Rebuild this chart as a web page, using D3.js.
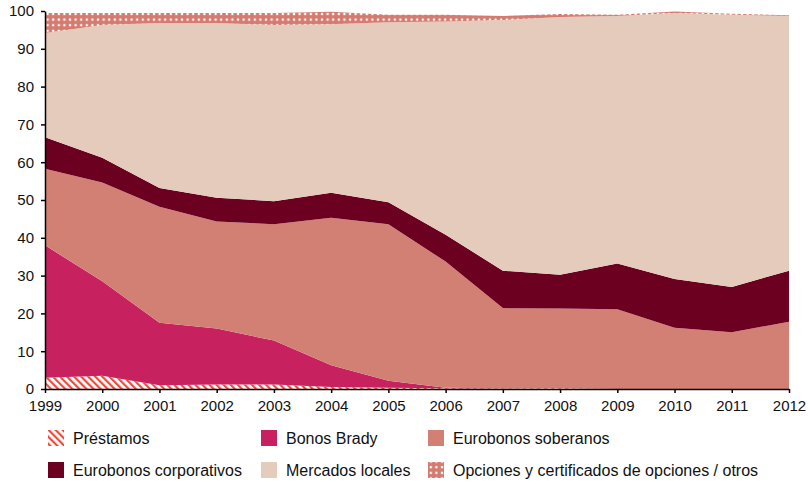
<!DOCTYPE html>
<meta charset="utf-8">
<title>Composición de la deuda</title>
<style>
body {
  margin: 0;
  font-family: "Liberation Sans", Arial, sans-serif;
  background: #fff;
}
.axis text {
  font-size: 15px;
  fill: #111;
}
.legend text {
  font-size: 16px;
  fill: #111;
}
</style>
<body>
<div id="vis"></div>
<script src="https://cdn.jsdelivr.net/npm/d3@7"></script>
<script>

// años
var years = [1999, 2000, 2001, 2002, 2003, 2004, 2005, 2006, 2007, 2008, 2009, 2010, 2011, 2012];

// participaciones (%) de cada instrumento
var prestamos    = [3.0, 3.5, 1.0, 1.2, 1.2, 0.5, 0.3, 0.2, 0.1, 0.2, 0.0, 0.0, 0.0, 0.0];
var brady        = [35.0, 25.0, 16.5, 14.8, 11.6, 5.8, 1.9, 0.1, 0.0, 0.0, 0.0, 0.0, 0.0, 0.0];
var soberanos    = [20.3, 26.1, 30.7, 28.3, 30.8, 39.0, 41.4, 33.4, 21.3, 21.1, 21.1, 16.2, 15.0, 17.8];
var corporativos = [8.3, 6.6, 5.0, 6.3, 6.1, 6.6, 5.8, 7.1, 9.9, 8.9, 12.1, 12.9, 12.0, 13.5];
var locales      = [27.6, 35.1, 43.6, 46.2, 46.6, 44.6, 47.6, 56.4, 66.3, 68.2, 65.5, 70.4, 72.0, 67.4];
var otros        = [5.3, 3.2, 2.7, 2.7, 3.2, 3.3, 2.0, 1.8, 1.1, 0.8, 0.3, 0.4, 0.3, 0.2];

var yTicks = [0, 10, 20, 30, 40, 50, 60, 70, 80, 90, 100];

var seriesNames = ["Préstamos", "Bonos Brady", "Eurobonos soberanos",
                   "Eurobonos corporativos", "Mercados locales",
                   "Opciones y certificados de opciones / otros"];
var seriesValues = [prestamos, brady, soberanos, corporativos, locales, otros];
var fills = ["url(#stripes)", "#c8215f", "#d18073", "#6b0020", "#e5cbbb", "url(#dots)"];

var width = 808, height = 484;
var margin = {top: 11, right: 19, bottom: 95, left: 45};

var svg = d3.select("#vis").append("svg")
    .attr("width", width)
    .attr("height", height);

// patrones
var defs = svg.append("defs");

var stripes = defs.append("pattern")
    .attr("id", "stripes")
    .attr("patternUnits", "userSpaceOnUse")
    .attr("width", 5)
    .attr("height", 5)
    .attr("patternTransform", "rotate(-45)");
stripes.append("rect").attr("width", 5).attr("height", 5).attr("fill", "#fff");
stripes.append("rect").attr("x", 0).attr("width", 2.2).attr("height", 5).attr("fill", "#ef4a3c");

var dots = defs.append("pattern")
    .attr("id", "dots")
    .attr("patternUnits", "userSpaceOnUse")
    .attr("width", 5.6)
    .attr("height", 5.6);
dots.append("rect").attr("width", 5.6).attr("height", 5.6).attr("fill", "#d47b70");
dots.append("rect").attr("x", 1.7).attr("y", 1.7).attr("width", 2.2).attr("height", 2.2).attr("fill", "#fff");

var x = d3.scaleLinear()
    .domain([1999, 2012])
    .range([margin.left, width - margin.right]);

var y = d3.scaleLinear()
    .domain([0, 100])
    .range([height - margin.bottom, margin.top]);

var table = years.map(function(yr, i) {
  var row = {year: yr};
  seriesNames.forEach(function(name, k) { row[name] = seriesValues[k][i]; });
  return row;
});

var stack = d3.stack().keys(seriesNames);
var layers = stack(table);

var area = d3.area()
    .x(function(d) { return x(d.data.year); })
    .y0(function(d) { return y(d[0]); })
    .y1(function(d) { return y(d[1]); });

svg.append("g")
  .selectAll("path")
    .data(layers)
  .enter().append("path")
    .attr("d", area)
    .attr("fill", function(d, i) { return fills[i]; });

// ejes
var xAxis = svg.append("g")
    .attr("class", "axis")
    .attr("transform", "translate(0," + y(0) + ")")
    .call(d3.axisBottom(x).tickValues(years).tickFormat(d3.format("d")).tickSize(4).tickSizeOuter(0));

var yAxis = svg.append("g")
    .attr("class", "axis")
    .attr("transform", "translate(" + margin.left + ",0)")
    .call(d3.axisLeft(y).tickValues(yTicks).tickSize(4).tickSizeOuter(0));

svg.selectAll(".axis path, .axis line")
    .attr("stroke", "#000")
    .attr("stroke-width", 1.5);
xAxis.selectAll("text").attr("dy", "1.0em");
yAxis.selectAll("text").attr("x", -11);

// leyenda
var legendPos = [
  [48, 438], [261, 438], [428, 438],
  [48, 470], [261, 470], [428, 470]
];

var legend = svg.append("g")
    .attr("class", "legend")
  .selectAll("g")
    .data(seriesNames)
  .enter().append("g")
    .attr("transform", function(d, i) { return "translate(" + legendPos[i][0] + "," + legendPos[i][1] + ")"; });

legend.append("rect")
    .attr("x", 0)
    .attr("y", -8)
    .attr("width", 16)
    .attr("height", 16)
    .attr("fill", function(d, i) { return fills[i]; });

legend.append("text")
    .attr("x", 25)
    .attr("dy", "0.35em")
    .text(function(d) { return d; });

</script>
</body>
